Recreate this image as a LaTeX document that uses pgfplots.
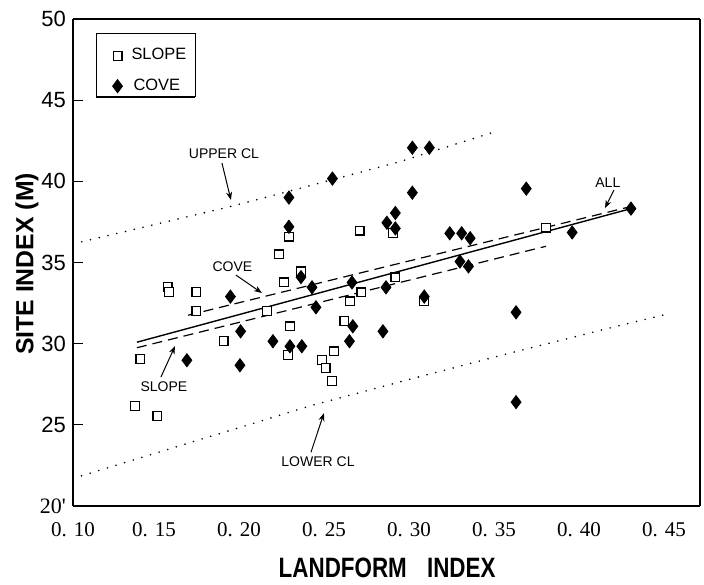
\documentclass[border=0pt]{standalone}
\usepackage{fontspec}
\setmainfont{Liberation Sans}
\newfontfamily\serifx{Liberation Serif}
\usepackage{graphicx}
\usepackage{pgfplots}
\pgfplotsset{compat=1.18}
\usetikzlibrary{arrows.meta}
\begin{document}
\begin{tikzpicture}
\path[use as bounding box] (-36.5pt,-39pt) rectangle (315.5pt,253pt);
\begin{axis}[
  at={(0pt,0pt)}, anchor=south west,
  scale only axis, width=313.5pt, height=243.5pt,
  xmin=0.1024, xmax=0.4712, ymin=20, ymax=50,
  axis x line=bottom, axis y line=left,
  axis line style={-, line width=1.1pt},
  clip=false,
  xtick={0.1024,0.15,0.2,0.25,0.3,0.35,0.4,0.45},
  xticklabels={0. 10,0. 15,0. 20,0. 25,0. 30,0. 35,0. 40,0. 45},
  xtick style={draw=none},
  xticklabel style={font=\serifx\fontsize{10.5}{12}\selectfont, anchor=center, yshift=-12pt},
  ytick={25,30,35,40,45},
  yticklabels={25,30,35,40,45},
  extra y ticks={20,50},
  extra y tick labels={{\serifx 20'},50},
  extra y tick style={major tick length=0pt},
  yticklabel style={font=\fontsize{11}{12}\selectfont},
  ytick style={line width=0.6pt, black},
  tick align=inside, major tick length=5pt,
  xlabel={\scalebox{0.8}[1]{LANDFORM\hspace{0.9em}INDEX}},
  xlabel style={font=\bfseries\fontsize{14}{16}\selectfont, at={(axis description cs:0.501,-0.127)}, anchor=center},
  ylabel={SITE INDEX (M)},
  ylabel style={font=\bfseries\fontsize{12.4}{14}\selectfont, at={(axis description cs:-0.0734,0.497)}, anchor=center},
  legend style={at={(0.037,0.969)}, anchor=north west, draw=none, fill=none,
    font=\fontsize{8.2}{10}\selectfont, row sep=4pt, inner xsep=8pt, inner ysep=5pt},
  legend cell align=left,
]
% regression lines
\addplot[forget plot, line width=0.7pt] coordinates {(0.14,30.09) (0.4306,38.32)};
\addplot[forget plot, line width=0.6pt, dash pattern=on 5pt off 3pt] coordinates {(0.17,31.75) (0.4306,38.45)};
\addplot[forget plot, line width=0.6pt, dash pattern=on 5pt off 3pt] coordinates {(0.14,29.75) (0.3806,36.0)};
% confidence limits
\addplot[forget plot, line width=0.9pt, line cap=round, dash pattern=on 0pt off 4.5pt]
  coordinates {(0.1024,36.15) (0.194,38.42) (0.2276,39.34) (0.294,41.19) (0.352,43.1)};
\addplot[forget plot, line width=0.9pt, line cap=round, dash pattern=on 0pt off 4.5pt]
  coordinates {(0.1024,21.7) (0.243,26.2) (0.302,27.85) (0.3606,29.45) (0.4194,31.0) (0.451,31.8)};
% SLOPE sites
\addplot[only marks, mark=square*, mark size=2.2pt, mark options={fill=white, draw=black, line width=0.6pt}]
  coordinates {
  (0.139,26.15) (0.142,29.04) (0.152,25.54) (0.158,33.5) (0.159,33.2)
  (0.175,33.2) (0.175,32.0) (0.191,30.15) (0.2165,32.0) (0.2235,35.5)
  (0.2265,33.77) (0.23,31.07) (0.229,29.3) (0.2294,36.6) (0.2365,34.45)
  (0.249,28.98) (0.251,28.49) (0.2547,27.69) (0.256,29.53) (0.262,31.38)
  (0.2653,32.6) (0.271,36.97) (0.272,33.16) (0.2906,36.8) (0.292,34.08)
  (0.309,32.6) (0.3806,37.15)};
\addlegendentry{\hspace{2.5pt}SLOPE}
% COVE sites
\addplot[only marks, mark=diamond*, mark size=3.3pt, mark options={fill=black, draw=black}]
  coordinates {
  (0.1694,28.98) (0.195,32.9) (0.201,30.76) (0.2006,28.67) (0.22,30.15)
  (0.2294,39.0) (0.2294,37.2) (0.23,29.84) (0.237,29.84) (0.2365,34.1)
  (0.243,33.47) (0.2453,32.24) (0.255,40.17) (0.265,30.15) (0.2665,33.77)
  (0.267,31.07) (0.2847,30.76) (0.2865,33.47) (0.287,37.45) (0.292,38.05)
  (0.292,37.1) (0.302,42.07) (0.312,42.07) (0.302,39.3) (0.309,32.9)
  (0.324,36.8) (0.331,36.8) (0.336,36.5) (0.33,35.06) (0.335,34.76)
  (0.363,31.93) (0.363,26.4) (0.369,39.55) (0.396,36.85) (0.4306,38.32)};
\addlegendentry{\hspace{3.5pt}COVE}
% frame parts
\draw[line width=1.2pt] (rel axis cs:0,1) -- (rel axis cs:1,1);
\draw[line width=0.6pt] (rel axis cs:1,0) -- (rel axis cs:1,1);
% legend box
\draw[line width=0.5pt] (rel axis cs:0.0367,0.9693) rectangle (rel axis cs:0.1946,0.840);
\draw[line width=1.1pt] (rel axis cs:0.0367,0.840) -- (rel axis cs:0.1946,0.840);
% annotations
\begin{scope}[font=\fontsize{7}{8}\selectfont]
\node at (axis cs:0.1912,41.68) {UPPER CL};
\draw[-{Stealth[length=4pt,width=3pt]}, line width=0.5pt] (axis cs:0.19,41.13) -- (axis cs:0.1953,38.85);
\node at (axis cs:0.1962,34.72) {COVE};
\draw[-{Stealth[length=4pt,width=3pt]}, line width=0.5pt] (axis cs:0.1982,34.23) -- (axis cs:0.2135,33.12);
\node at (axis cs:0.1559,27.33) {SLOPE};
\draw[-{Stealth[length=4pt,width=3pt]}, line width=0.5pt] (axis cs:0.1541,27.94) -- (axis cs:0.1624,29.85);
\node at (axis cs:0.2465,22.7) {LOWER CL};
\draw[-{Stealth[length=4pt,width=3pt]}, line width=0.5pt] (axis cs:0.2424,23.32) -- (axis cs:0.25,25.72);
\node at (axis cs:0.417,39.9) {ALL};
\draw[-{Stealth[length=4pt,width=3pt]}, line width=0.5pt] (axis cs:0.4206,39.46) -- (axis cs:0.4153,38.35);
\end{scope}
\end{axis}
\end{tikzpicture}
\end{document}
